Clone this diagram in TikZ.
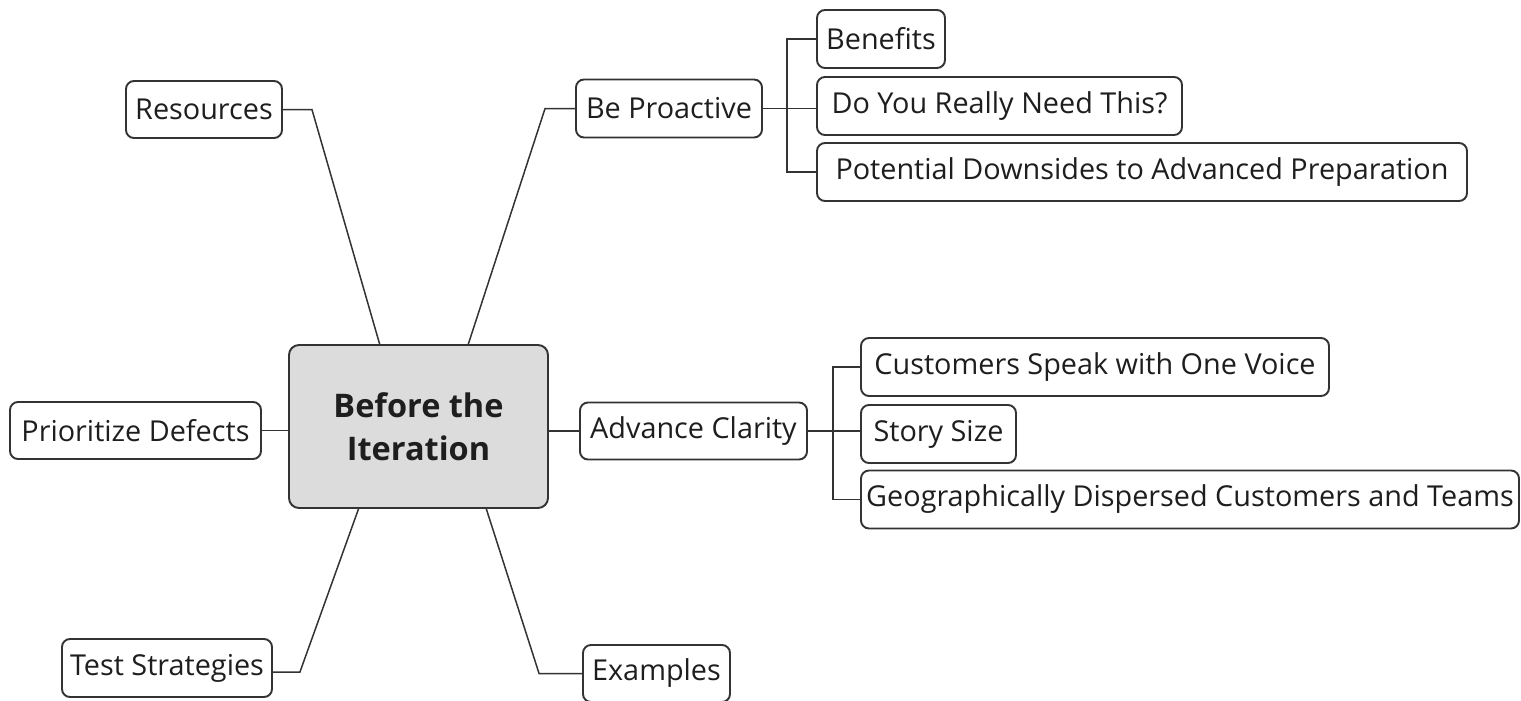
\documentclass[tikz,border=0pt]{standalone}
\usepackage{fontspec}
\setmainfont{Open Sans}
\usetikzlibrary{calc}
\definecolor{boxline}{HTML}{333333}
\definecolor{textcol}{HTML}{1E1E1E}
\definecolor{ctrfill}{HTML}{DCDCDC}
\begin{document}
\begin{tikzpicture}[x=1pt,y=-1pt,
  box/.style={draw=boxline, line width=1.9pt, rounded corners=8pt, fill=white,
    inner sep=0pt, text=textcol, font=\fontsize{28.8}{32}\selectfont},
  ctrbox/.style={box, fill=ctrfill, rounded corners=10pt, align=center,
    font=\fontsize{32.5}{43}\selectfont\bfseries},
  conn/.style={draw=boxline, line width=1.5pt}]
\useasboundingbox (0,0) rectangle (1521,701);
% centre
\node[ctrbox, minimum width=259pt, minimum height=163pt] (ctr) at (418.5,426.5) {Before the\\Iteration};
% left side
\node[box, minimum width=156pt, minimum height=57pt] (res) at (204,109.5) {Resources};
\node[box, minimum width=251pt, minimum height=57pt] (prio) at (135.5,430.5) {Prioritize Defects};
\node[box, minimum width=210pt, minimum height=58pt] (ts) at (167,668) {Test Strategies};
% right side
\node[box, minimum width=186pt, minimum height=58pt] (bp) at (669,108.5) {Be Proactive};
\node[box, minimum width=227pt, minimum height=57pt] (ac) at (693.5,431) {Advance Clarity};
\node[box, minimum width=147pt, minimum height=57pt] (ex) at (656.5,673.5) {Examples};
% Be Proactive children
\node[box, minimum width=128pt, minimum height=58pt] (ben) at (881,39) {Benefits};
\node[box, minimum width=365pt, minimum height=58pt] (dyr) at (999.5,106) {Do You Really Need This?};
\node[box, minimum width=650pt, minimum height=58pt] (pd) at (1142,172) {Potential Downsides to Advanced Preparation};
% Advance Clarity children
\node[box, minimum width=468pt, minimum height=58pt] (csw) at (1095,367) {Customers Speak with One Voice};
\node[box, minimum width=155pt, minimum height=58pt] (ss) at (938.5,434) {Story Size};
\node[box, minimum width=658pt, minimum height=58pt] (geo) at (1190,499.5) {Geographically Dispersed Customers and Teams};
% connectors from the centre
\draw[conn] (res.east) -- ++(29,0) -- ($(ctr.north west)!0.351!(ctr.north east)$);
\draw[conn] (bp.west) -- ++(-30,0) -- ($(ctr.north west)!0.691!(ctr.north east)$);
\draw[conn] (prio.east) -- (prio.east -| ctr.west);
\draw[conn] (ac.west) -- (ac.west -| ctr.east);
\draw[conn] ($(ts.east)+(0,4)$) -- ++(27,0) -- ($(ctr.south west)!0.27!(ctr.south east)$);
\draw[conn] (ex.west) -- ++(-43,0) -- ($(ctr.south west)!0.76!(ctr.south east)$);
% Be Proactive branch
\draw[conn] (bp.east) -- (bp.east -| dyr.west);
\draw[conn] (ben.west) -- ++(-29,0) |- (pd.west);
% Advance Clarity branch
\draw[conn] (ac.east) -- (ac.east -| ss.west);
\draw[conn] (csw.west) -- ++(-27,0) |- (geo.west);
\end{tikzpicture}
\end{document}
